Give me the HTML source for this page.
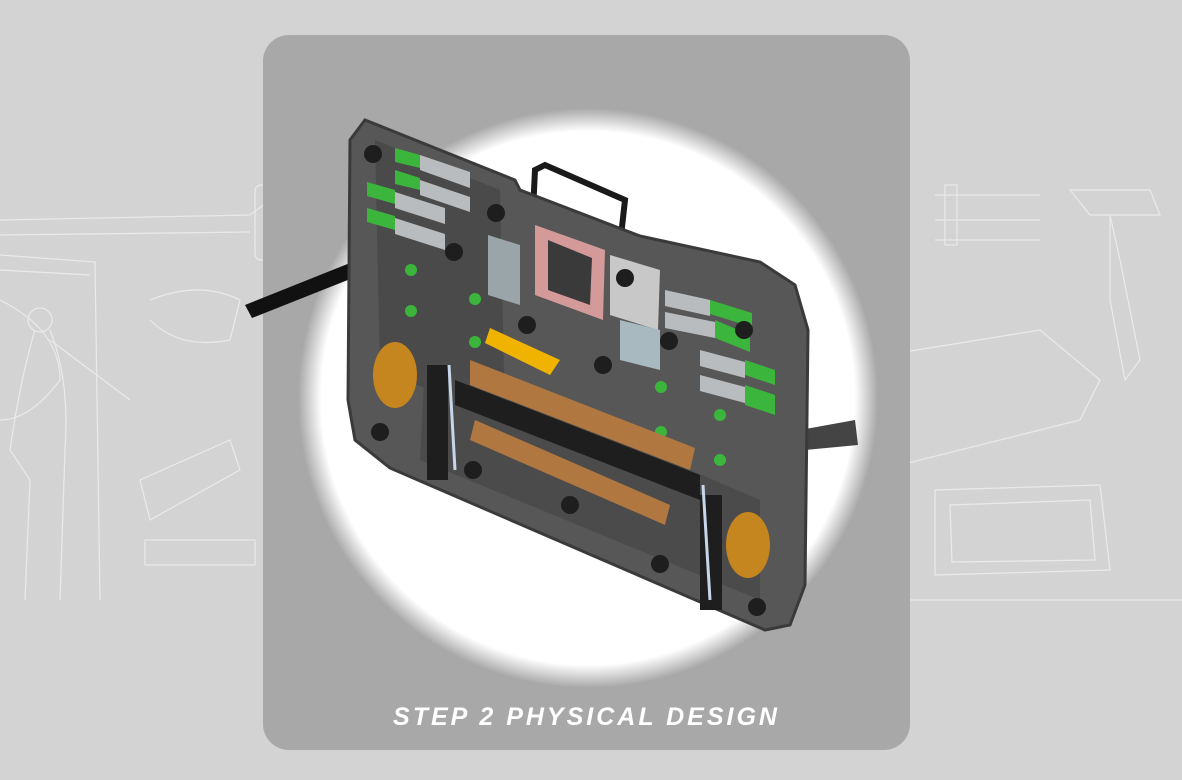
<!DOCTYPE html>
<html><head><style>
html,body{margin:0;padding:0;}
body{width:1182px;height:780px;background:#d3d3d3;position:relative;overflow:hidden;font-family:"Liberation Sans",sans-serif;}
.panel{position:absolute;left:263px;top:35px;width:647px;height:715px;border-radius:26px;background:#a8a8a8;}
.title{position:absolute;left:263px;width:647px;top:703px;text-align:center;color:#fff;font-size:25px;font-style:italic;font-weight:bold;letter-spacing:3px;}
svg{position:absolute;left:0;top:0;}
</style></head><body>
<svg width="1182" height="780">
 <g stroke="#f4f4f4" stroke-width="1.2" fill="none" opacity="0.7">
  <path d="M0 220 L250 215 L270 200 M0 235 L250 232"/>
  <rect x="255" y="185" width="25" height="75" rx="6"/>
  <path d="M0 255 L95 262 L100 600 M0 270 L90 275"/>
  <path d="M35 330 Q20 380 10 450 L30 480 L25 600 M50 330 Q70 380 65 450 L60 600"/>
  <circle cx="40" cy="320" r="12"/>
  <path d="M50 340 L130 400 M150 300 Q200 280 240 300 L230 340 Q180 350 150 320"/>
  <path d="M140 480 L230 440 L240 470 L150 520Z M145 540 L255 540 L255 565 L145 565Z"/>
  <path d="M0 300 Q60 330 60 380 Q30 420 0 420"/>
  <path d="M935 195 L1040 195 M935 220 L1040 220 M935 240 L1040 240"/>
  <rect x="945" y="185" width="12" height="60"/>
  <path d="M1070 190 L1150 190 L1160 215 L1090 215Z M1110 215 L1120 260 L1140 360 L1125 380 L1110 300Z"/>
  <path d="M855 360 L1040 330 L1100 380 L1080 420 L880 470 L855 440Z"/>
  <path d="M935 490 L1100 485 L1110 570 L935 575Z M950 505 L1090 500 L1095 560 L952 562Z"/>
  <path d="M910 600 L1182 600 M850 250 L905 270 M770 180 L840 180 L860 210"/>
  <circle cx="900" cy="265" r="8"/><circle cx="860" cy="265" r="8"/>
 </g>
</svg>
<div class="panel"></div>
<svg width="1182" height="780">
 <defs>
  <radialGradient id="g" cx="50%" cy="50%" r="50%">
   <stop offset="0.92" stop-color="#fff"/><stop offset="1" stop-color="#fff" stop-opacity="0"/>
  </radialGradient>
 </defs>
 <circle cx="588" cy="398" r="290" fill="url(#g)"/>
 <path d="M245 305 L370 255 L378 268 L252 318Z" fill="#111"/>
 <path d="M800 430 L855 420 L858 445 L805 450Z" fill="#444"/>
 <path d="M532 232 L535 170 L545 165 L625 200 L620 245" fill="none" stroke="#1a1a1a" stroke-width="6"/>
 <path d="M365 120 L515 180 L520 190 L640 236 L760 262 L795 285 L808 330 L805 585 L790 625 L765 630 L390 468 L355 440 L348 400 L350 140Z" fill="#575757" stroke="#3a3a3a" stroke-width="3"/>
 <path d="M375 140 L500 190 L505 420 L380 370Z" fill="#4a4a4a"/>
 <path d="M425 360 L690 470 L760 500 L760 600 L420 460Z" fill="#4b4b4b"/>
 <path d="M535 225 L605 250 L603 320 L535 295Z" fill="#d49a9a"/>
 <path d="M548 240 L592 258 L590 305 L548 290Z" fill="#3a3a3a"/>
 <path d="M610 255 L660 270 L658 330 L610 315Z" fill="#c8c8c8"/>
 <path d="M488 235 L520 245 L520 305 L488 295Z" fill="#9aa5a9"/>
 <path d="M620 320 L660 330 L660 370 L620 360Z" fill="#a9b9c0"/>
 <g fill="#3bb53b">
  <path d="M395 148 L420 155 L420 168 L395 162Z"/><path d="M395 170 L420 178 L420 190 L395 184Z"/>
  <path d="M367 182 L395 190 L395 204 L367 196Z"/><path d="M367 208 L395 216 L395 230 L367 222Z"/>
  <path d="M710 300 L752 313 L752 327 L710 314Z"/><path d="M715 320 L750 335 L750 352 L715 338Z"/>
  <path d="M745 360 L775 370 L775 385 L745 375Z"/><path d="M745 385 L775 395 L775 415 L745 405Z"/>
  <circle cx="411" cy="270" r="6"/><circle cx="475" cy="299" r="6"/><circle cx="411" cy="311" r="6"/><circle cx="475" cy="342" r="6"/>
  <circle cx="661" cy="387" r="6"/><circle cx="661" cy="432" r="6"/><circle cx="720" cy="415" r="6"/><circle cx="720" cy="460" r="6"/>
 </g>
 <g fill="#b9bcbe">
  <path d="M420 155 L470 172 L470 188 L420 170Z"/><path d="M420 180 L470 197 L470 212 L420 195Z"/>
  <path d="M395 192 L445 208 L445 224 L395 208Z"/><path d="M395 218 L445 234 L445 250 L395 234Z"/>
  <path d="M665 290 L710 300 L710 316 L665 306Z"/><path d="M665 312 L715 322 L715 338 L665 328Z"/>
  <path d="M700 350 L745 362 L745 378 L700 366Z"/><path d="M700 375 L745 387 L745 403 L700 391Z"/>
 </g>
 <g fill="#1e1e1e">
  <circle cx="373" cy="154" r="9"/><circle cx="454" cy="252" r="9"/><circle cx="496" cy="213" r="9"/>
  <circle cx="527" cy="325" r="9"/><circle cx="603" cy="365" r="9"/><circle cx="625" cy="278" r="9"/>
  <circle cx="669" cy="341" r="9"/><circle cx="744" cy="330" r="9"/><circle cx="380" cy="432" r="9"/>
  <circle cx="473" cy="470" r="9"/><circle cx="570" cy="505" r="9"/><circle cx="660" cy="564" r="9"/>
  <circle cx="757" cy="607" r="9"/>
  <path d="M427 365 L448 365 L448 480 L427 480Z"/><path d="M700 495 L722 495 L722 610 L700 610Z"/>
  <path d="M455 380 L700 475 L700 500 L455 405Z"/>
 </g>
 <path d="M470 360 L695 448 L690 470 L470 385Z" fill="#b07840"/>
 <path d="M475 420 L670 505 L665 525 L470 440Z" fill="#b07840"/>
 <path d="M490 328 L560 360 L550 375 L485 343Z" fill="#f0b400"/>
 <ellipse cx="395" cy="375" rx="22" ry="33" fill="#c5851f"/>
 <ellipse cx="748" cy="545" rx="22" ry="33" fill="#c5851f"/>
 <path d="M449 365 L455 470 M703 485 L710 600" stroke="#c8d6ea" stroke-width="3" fill="none"/>
</svg>
<div class="title">STEP 2 PHYSICAL DESIGN</div>
</body></html>
